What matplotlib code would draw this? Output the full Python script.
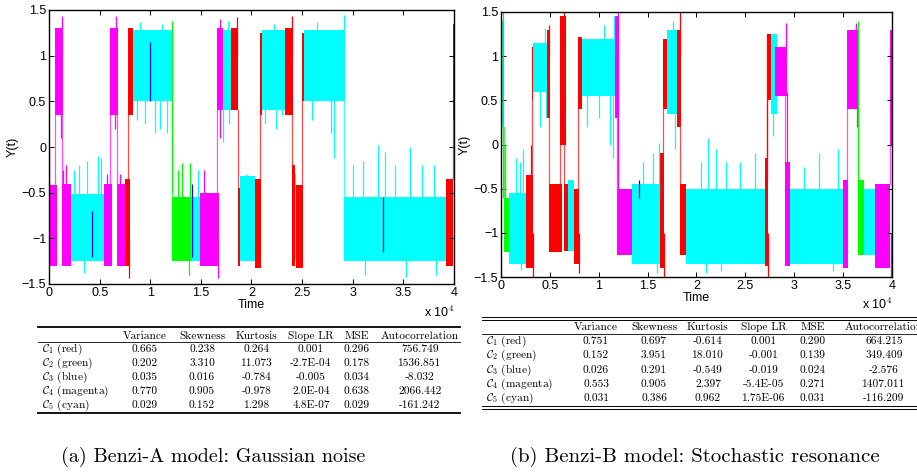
import matplotlib.pyplot as plt
from matplotlib.lines import Line2D

plt.rcParams['mathtext.fontset'] = 'cm'
plt.rcParams['font.family'] = ['Liberation Sans', 'DejaVu Sans']

W, H = 917, 475
COLORS = {'r': '#ff0000', 'g': '#00ff00', 'b': '#0000ff', 'm': '#ff00ff', 'c': '#00ffff'}

# ---- panel (a): Benzi-A, time in units of 1e4 ----
a_start = [0.00, 0.06, 0.125, 0.217, 0.543, 0.60, 0.675, 0.75, 0.78, 0.83,
           1.215, 1.40, 1.49, 1.66, 1.715, 1.80, 1.865, 1.885, 2.03, 2.085,
           2.105, 2.33, 2.40, 2.425, 2.44, 2.50, 2.52, 2.915, 3.92, 3.99]
a_end = [0.076, 0.135, 0.217, 0.543, 0.62, 0.685, 0.75, 0.80, 0.83, 1.215,
         1.40, 1.49, 1.675, 1.715, 1.80, 1.865, 1.885, 2.03, 2.095, 2.105,
         2.33, 2.41, 2.425, 2.44, 2.51, 2.52, 2.92, 3.92, 3.99, 4.00]
a_lo = [-1.30, 0.35, -1.30, -1.25, -1.30, 0.35, -1.30, -1.30, 0.35, 0.50,
        -1.25, -1.25, -1.30, 0.40, 0.40, 0.40, -1.30, -1.25, -1.33, 0.35,
        0.40, 0.35, -1.30, -1.25, -1.32, 0.50, 0.50, -1.25, -1.30, 0.30]
a_hi = [-0.42, 1.30, -0.40, -0.52, -0.40, 1.30, -0.40, -0.35, 1.30, 1.28,
        -0.55, -0.55, -0.50, 1.30, 1.28, 1.30, -0.45, -0.32, -0.35, 1.25,
        1.28, 1.30, -0.20, -0.30, -0.42, 1.25, 1.28, -0.55, -0.35, 1.35]
a_col = ['m', 'm', 'm', 'c', 'm', 'm', 'm', 'r', 'r', 'c',
         'g', 'c', 'm', 'm', 'c', 'r', 'r', 'c', 'r', 'r',
         'c', 'r', 'r', 'c', 'r', 'r', 'c', 'c', 'r', 'r']

a_spike_t = [0.003, 0.115, 0.13, 0.14, 0.17, 0.25, 0.30, 0.38, 0.48, 0.51, 0.35,
             0.57, 0.655, 0.665, 0.70, 0.79, 0.865, 0.95, 1.05, 1.10, 1.17, 0.90,
             1.12, 1.215, 1.27, 1.31, 1.39, 1.385, 1.47, 1.53, 1.67, 1.685, 1.69,
             1.72, 1.77, 1.78, 1.86, 1.95, 2.13, 2.24, 2.30, 2.22, 2.40, 2.60,
             2.79, 2.81, 2.65, 2.91, 3.00, 3.10, 3.25, 3.32, 3.42, 3.57, 3.68,
             3.80, 3.12, 3.53, 3.82, 0.42, 1.00, 1.41, 3.30]
a_spike_lo = [-0.50, 0.10, 1.00, -0.60, -0.60, -0.70, -0.70, -0.70, -0.70, -0.70, -1.38,
              -0.60, 0.20, 1.00, -0.60, -1.43, 0.30, 0.25, 0.15, 0.20, 0.15, 1.00,
              1.00, -0.50, -0.60, -0.60, -0.60, -1.40, -0.60, -0.60, -1.43, 0.10, 1.00,
              0.05, 1.00, 0.25, 1.00, -0.60, 0.25, 0.20, 0.35, 1.00, 1.00, 0.30,
              0.15, -0.12, 1.00, 1.00, -0.60, -0.60, -0.60, -0.60, -0.60, -0.60, -0.60,
              -0.60, -1.40, -1.42, -1.40, -1.20, 0.50, -1.20, -1.15]
a_spike_hi = [0.00, 0.60, 1.43, -0.25, -0.20, -0.25, -0.20, -0.15, -0.10, -0.12, -1.00,
              -0.30, 0.60, 1.43, -0.30, -1.00, 0.70, 0.70, 0.60, 0.60, 0.60, 1.37,
              1.35, 1.38, -0.25, -0.17, -0.17, -1.00, -0.25, -0.25, -1.00, 0.50, 1.40,
              0.50, 1.38, 0.50, 1.42, -0.30, 0.60, 0.60, 0.60, 1.35, 1.43, 0.60,
              0.60, 0.60, 1.37, 1.45, -0.20, -0.15, 0.02, -0.05, -0.20, 0.00, -0.20,
              -0.20, -1.10, -1.10, -1.10, -0.70, 1.15, -0.40, -0.55]
a_spike_col = ['m', 'm', 'm', 'm', 'm', 'c', 'c', 'c', 'c', 'c', 'c',
               'm', 'm', 'm', 'm', 'r', 'c', 'c', 'c', 'c', 'c', 'c',
               'c', 'g', 'g', 'g', 'g', 'g', 'c', 'm', 'm', 'm', 'm',
               'c', 'c', 'c', 'r', 'c', 'c', 'c', 'c', 'c', 'r', 'c',
               'c', 'c', 'c', 'c', 'c', 'c', 'c', 'c', 'c', 'c', 'c',
               'c', 'c', 'c', 'c', 'b', 'b', 'b', 'b']

# ---- panel (b): Benzi-B ----
b_start = [0.000, 0.034, 0.080, 0.256, 0.317, 0.330, 0.474, 0.490, 0.600, 0.645,
           0.690, 0.747, 0.790, 0.830, 1.167, 1.190, 1.340, 1.630, 1.660, 1.700,
           1.805, 1.830, 1.890, 2.700, 2.720, 2.760, 2.800, 2.910, 2.960, 3.495,
           3.540, 3.650, 3.710, 3.830, 3.975]
b_end = [0.024, 0.080, 0.256, 0.330, 0.330, 0.474, 0.500, 0.620, 0.660, 0.690,
         0.747, 0.795, 0.830, 1.167, 1.200, 1.340, 1.630, 1.670, 1.700, 1.805,
         1.840, 1.890, 2.700, 2.730, 2.760, 2.820, 2.925, 2.960, 3.495, 3.550,
         3.650, 3.710, 3.830, 3.980, 4.000]
b_lo = [0.20, -1.22, -1.35, -1.40, 0.50, 0.60, 0.30, -1.22, 0.00, -1.20,
        -1.20, -1.35, 0.40, 0.55, 0.30, -1.25, -1.35, -1.40, 0.40, 0.35,
        0.20, -1.25, -1.35, -1.38, 0.50, 0.35, 0.55, -1.38, -1.35, -1.40,
        0.40, -1.25, -1.25, -1.40, 0.00]
b_hi = [1.40, -0.60, -0.55, -0.35, 1.10, 1.15, 1.30, -0.45, 1.45, -0.45,
        -0.40, -0.50, 1.22, 1.20, 1.45, -0.50, -0.45, -0.10, 1.20, 1.30,
        1.30, -0.45, -0.50, -0.15, 1.25, 1.25, 1.10, -0.20, -0.50, -0.40,
        1.30, -0.40, -0.50, -0.45, 1.30]
b_col = ['c', 'g', 'c', 'r', 'r', 'c', 'r', 'r', 'r', 'r',
         'c', 'r', 'r', 'c', 'm', 'm', 'c', 'r', 'r', 'c',
         'r', 'r', 'c', 'r', 'r', 'c', 'm', 'm', 'c', 'm',
         'm', 'g', 'c', 'm', 'm']

b_spike_t = [0.02, 0.003, 0.045, 0.15, 0.22, 0.19, 0.20, 0.31, 0.325, 0.40, 0.46,
             0.45, 0.49, 0.64, 0.795, 0.88, 1.00, 1.15, 1.12, 1.05, 1.155, 1.20,
             1.45, 1.55, 1.62, 1.60, 1.41, 1.665, 1.76, 1.78, 1.835, 2.05, 2.12,
             2.20, 2.30, 2.45, 2.60, 2.10, 2.25, 2.73, 2.725, 2.92, 2.78, 2.925,
             3.25, 3.45, 3.10, 3.40, 3.64, 3.63, 3.65, 3.99]
b_spike_lo = [-0.60, -0.06, -0.60, -0.60, -0.60, -0.60, -1.42, -0.50, -1.50, 0.20, 0.30,
              1.00, 1.00, 1.00, -1.45, 0.20, 0.30, -0.15, 0.00, 1.00, 1.00, -0.50,
              -0.60, -0.60, -0.60, -1.45, -0.60, -1.50, 1.00, -0.05, 1.00, -0.60, -0.60,
              -0.60, -0.60, -0.60, -0.60, -1.45, -1.43, -1.50, -0.40, 1.00, 0.10, -0.40,
              -0.60, -0.60, -0.60, -1.43, 0.20, 1.00, -0.50, -1.50]
b_spike_hi = [1.50, 0.50, 0.00, -0.15, -0.05, -0.20, -1.10, 0.00, -1.00, 0.70, 0.70,
              1.32, 1.35, 1.50, -1.00, 0.70, 0.70, 0.60, 0.60, 1.35, 1.45, 1.50,
              -0.20, -0.10, 0.02, -1.10, -0.40, -1.00, 1.40, 0.50, 1.50, -0.20, 0.07,
              -0.05, -0.20, -0.20, -0.10, -1.10, -1.10, -1.00, 1.25, 1.38, 0.50, 0.60,
              -0.10, -0.05, -0.25, -1.10, 0.60, 1.38, 1.40, -1.00]
b_spike_col = ['g', 'c', 'g', 'c', 'c', 'c', 'c', 'r', 'r', 'c', 'c',
               'c', 'r', 'r', 'r', 'c', 'c', 'c', 'c', 'c', 'c', 'm',
               'c', 'c', 'c', 'c', 'b', 'r', 'c', 'c', 'r', 'c', 'c',
               'c', 'c', 'c', 'c', 'c', 'c', 'r', 'r', 'm', 'c', 'm',
               'c', 'c', 'c', 'c', 'm', 'm', 'g', 'm']

# ---- tables ----
col_names = ['Variance', 'Skewness', 'Kurtosis', 'Slope LR', 'MSE', 'Autocorrelation']
row_names = [r'$\mathcal{C}_1$ (red)', r'$\mathcal{C}_2$ (green)', r'$\mathcal{C}_3$ (blue)',
             r'$\mathcal{C}_4$ (magenta)', r'$\mathcal{C}_5$ (cyan)']
a_table = [['0.665', '0.238', '0.264', '0.001', '0.296', '756.749'],
           ['0.202', '3.310', '11.073', '-2.7E-04', '0.178', '1536.851'],
           ['0.035', '0.016', '-0.784', '-0.005', '0.034', '-8.032'],
           ['0.770', '0.905', '-0.978', '2.0E-04', '0.638', '2066.442'],
           ['0.029', '0.152', '1.298', '4.8E-07', '0.029', '-161.242']]
b_table = [['0.751', '0.697', '-0.614', '0.001', '0.290', '664.215'],
           ['0.152', '3.951', '18.010', '-0.001', '0.139', '349.409'],
           ['0.026', '0.291', '-0.549', '-0.019', '0.024', '-2.576'],
           ['0.553', '0.905', '2.397', '-5.4E-05', '0.271', '1407.011'],
           ['0.031', '0.386', '0.962', '1.75E-06', '0.031', '-116.209']]
captions = ['(a) Benzi-A model: Gaussian noise', '(b) Benzi-B model: Stochastic resonance']


def fx(x):
    return x / W


def fy(y):
    return 1 - y / H


def draw_panel(ax, start, end, lo, hi, col, st, slo, shi, scol):
    # transitions between levels
    for i in range(1, len(start)):
        prev_mid = (lo[i - 1] + hi[i - 1]) / 2
        cur_mid = (lo[i] + hi[i]) / 2
        if prev_mid * cur_mid < 0:
            y0 = hi[i - 1] if cur_mid > 0 else lo[i - 1]
            y1 = lo[i] if cur_mid > 0 else hi[i]
            ax.plot([start[i], start[i]], [y0, y1], color=COLORS[col[i]], lw=0.9, alpha=0.7)
    for i in range(len(start)):
        ax.bar(start[i], hi[i] - lo[i], width=end[i] - start[i], bottom=lo[i],
               align='edge', color=COLORS[col[i]], lw=0)
    ax.vlines(st, slo, shi, colors=[COLORS[c] for c in scol], lw=0.9)
    ax.set_xlim(0, 4)
    ax.set_ylim(-1.5, 1.5)
    ax.set_xticks([0, 0.5, 1, 1.5, 2, 2.5, 3, 3.5, 4])
    ax.set_xticklabels(['0', '0.5', '1', '1.5', '2', '2.5', '3', '3.5', '4'])
    ax.set_yticks([-1.5, -1, -0.5, 0, 0.5, 1, 1.5])
    ax.set_yticklabels(['\u22121.5', '\u22121', '\u22120.5', '0', '0.5', '1', '1.5'])
    ax.tick_params(direction='in', top=True, right=True, length=3.5, width=0.7,
                   labelsize=9, pad=2)
    for s in ax.spines.values():
        s.set_linewidth(1.0)
    ax.set_xlabel('Time', fontsize=9, labelpad=0)
    ax.set_ylabel('Y(t)', fontsize=9, labelpad=2)
    ax.text(1.0, -0.105, r'x 10$^4$', transform=ax.transAxes, ha='right', va='center',
            fontsize=9)


def hline(fig, x0, x1, y, lw):
    fig.add_artist(Line2D([fx(x0), fx(x1)], [fy(y), fy(y)], color='black', lw=lw))


def draw_table(fig, data, lab_x, col_x, y_head, y_rows):
    for name, x in zip(col_names, col_x):
        fig.text(fx(x), fy(y_head), name, ha='center', va='center', fontsize=8.2,
                 family='cmr10')
    for r, (name, row) in enumerate(zip(row_names, data)):
        fig.text(fx(lab_x), fy(y_rows[r]), name, ha='left', va='center', fontsize=8.2,
                 family='cmr10')
        for val, x in zip(row, col_x):
            fig.text(fx(x), fy(y_rows[r]), val, ha='center', va='center', fontsize=8.2,
                     family='cmr10')


fig = plt.figure(figsize=(W / 100, H / 100), dpi=100)

ax1 = fig.add_axes([fx(49), fy(284), fx(405), 274 / H])
draw_panel(ax1, a_start, a_end, a_lo, a_hi, a_col,
           a_spike_t, a_spike_lo, a_spike_hi, a_spike_col)
ax2 = fig.add_axes([fx(501), fy(277), fx(391), 265 / H])
draw_panel(ax2, b_start, b_end, b_lo, b_hi, b_col,
           b_spike_t, b_spike_lo, b_spike_hi, b_spike_col)

# left table
hline(fig, 38, 460, 327, 1.3)
hline(fig, 38, 460, 342, 0.6)
hline(fig, 38, 460, 413, 1.3)
draw_table(fig, a_table, 42, [145, 202, 257, 311, 357, 420], 336,
           [349, 363, 377, 391, 405])

# right table
hline(fig, 482, 917, 317, 0.7)
hline(fig, 482, 917, 320, 0.7)
hline(fig, 482, 917, 334, 0.6)
hline(fig, 482, 917, 406, 0.7)
hline(fig, 482, 917, 409, 0.7)
draw_table(fig, b_table, 486, [596, 654, 708, 764, 813, 884], 327,
           [341, 355, 370, 384, 398])

fig.text(fx(213), fy(457), captions[0], ha='center', va='center', fontsize=14.5,
         family='cmr10')
fig.text(fx(695), fy(457), captions[1], ha='center', va='center', fontsize=15,
         family='cmr10')

fig.savefig('out.png', dpi=100)
